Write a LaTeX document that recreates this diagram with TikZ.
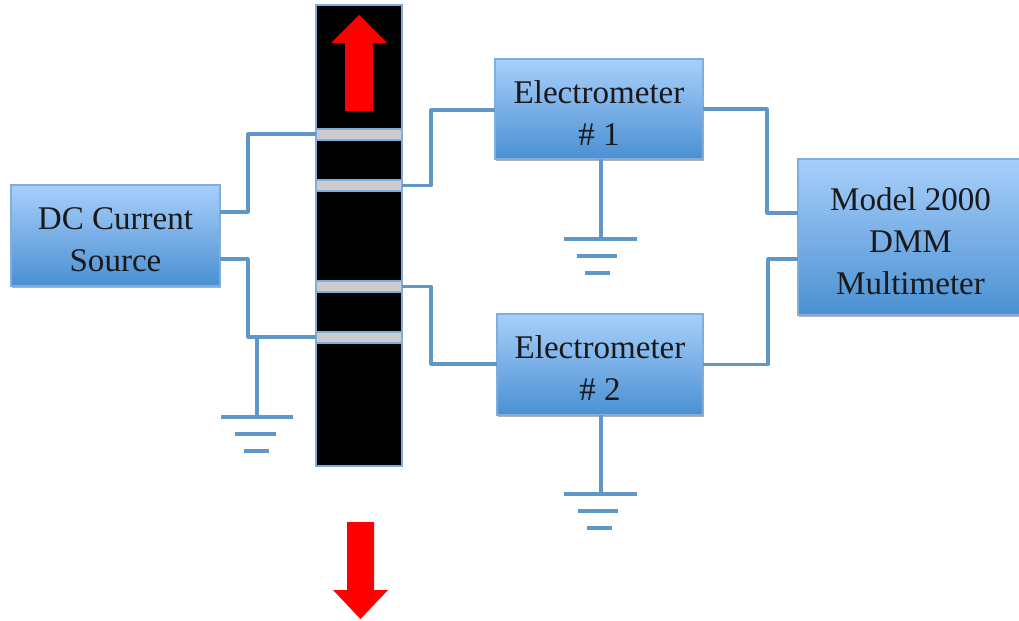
\documentclass[tikz,border=0pt]{standalone}
\usepackage{fontspec}
\setmainfont{Liberation Serif}
\usetikzlibrary{shadows,calc}
\definecolor{wire}{HTML}{6097C6}
\definecolor{boxedge}{HTML}{7FADDC}
\definecolor{boxtop}{HTML}{A8CFFB}
\definecolor{boxbot}{HTML}{4A90D2}
\newcommand{\lowered}{\rule{0pt}{23pt}}
\tikzset{
  x=0.75pt,y=-0.75pt,
  conn/.style={draw=wire,line width=2.3pt,line join=round},
  gbar/.style={draw=wire,line width=2.6pt},
  instr/.style={rectangle,draw=boxedge,line width=0.8pt,top color=boxtop,bottom color=boxbot,
    drop shadow={shadow xshift=1pt,shadow yshift=-1.5pt,opacity=.3,fill=black},
    inner sep=0pt,outer sep=0pt,align=center,font=\fontsize{24.8}{31.5}\selectfont,text=black!90},
  sample/.style={rectangle,draw=boxedge,line width=1.2pt,fill=black,inner sep=0pt,outer sep=0pt,
    minimum width=86*0.75pt,minimum height=461*0.75pt},
  contact/.style={rectangle,draw=boxedge,line width=1.2pt,fill=black!20,inner sep=0pt,outer sep=0pt,
    minimum width=86*0.75pt,minimum height=11*0.75pt},
  redarrow/.style={fill=red,draw=none},
}
\begin{document}
\begin{tikzpicture}
\useasboundingbox (0,0) rectangle (1019,620);

\coordinate (dcTop) at (220,212);
\coordinate (dcBot) at (220,259);
\coordinate (j1) at (248,134);
\coordinate (j2) at (248,337);
\coordinate (j3) at (431,110);
\coordinate (j4) at (431,364);
\coordinate (j5) at (767,213);
\coordinate (j6) at (768,259);
\coordinate (tap) at (257,337);
\coordinate (g1a) at (221,417); \coordinate (g1b) at (293,417);
\coordinate (g1c) at (235,434); \coordinate (g1d) at (276,434);
\coordinate (g1e) at (244,451); \coordinate (g1f) at (269,451);
\coordinate (g2t) at (601,239);
\coordinate (g2a) at (564,239); \coordinate (g2b) at (637,239);
\coordinate (g2c) at (577,256); \coordinate (g2d) at (617,256);
\coordinate (g2e) at (585,273); \coordinate (g2f) at (610,273);
\coordinate (g3t) at (601,494);
\coordinate (g3a) at (564,494); \coordinate (g3b) at (637,494);
\coordinate (g3c) at (578,511); \coordinate (g3d) at (618,511);
\coordinate (g3e) at (587,528); \coordinate (g3f) at (612,528);

\node[sample] (bar) at (359,235.5) {};
\node[contact] (c1) at (359,134.5) {};
\node[contact] (c2) at (359,185.5) {};
\node[contact] (c3) at (359,286.5) {};
\node[contact] (c4) at (359,337.5) {};

\node[instr,minimum width=209*0.75pt,minimum height=101*0.75pt] (dc) at (115.5,235.5) {\lowered DC Current\\Source};
\node[instr,minimum width=208*0.75pt,minimum height=100*0.75pt] (em1) at (599,109) {\lowered Electrometer\\\# 1};
\node[instr,minimum width=206*0.75pt,minimum height=101*0.75pt] (em2) at (600,364.5) {\lowered Electrometer\\\# 2};
\node[instr,minimum width=225*0.75pt,minimum height=156*0.75pt] (dmm) at (910.5,237) {\lowered Model 2000\\DMM\\Multimeter};

\draw[conn] (dcTop) -| (j1) -- (j1 -| c1.west);
\draw[conn] (dcBot) -| (j2) -- (j2 -| c4.west);
\draw[conn] (tap) -- (tap |- g1a);
\draw[conn] (c2.east) -| (j3) -- (j3 -| em1.west);
\draw[conn] (c3.east) -| (j4) -- (j4 -| em2.west);
\draw[conn] (em1.east) -| (j5) -- (j5 -| dmm.west);
\draw[conn] (em2.east) -| (j6) -- (j6 -| dmm.west);
\draw[conn] (em1.south -| g2t) -- (g2t);
\draw[conn] (em2.south -| g3t) -- (g3t);

\draw[gbar] (g1a) -- (g1b); \draw[gbar] (g1c) -- (g1d); \draw[gbar] (g1e) -- (g1f);
\draw[gbar] (g2a) -- (g2b); \draw[gbar] (g2c) -- (g2d); \draw[gbar] (g2e) -- (g2f);
\draw[gbar] (g3a) -- (g3b); \draw[gbar] (g3c) -- (g3d); \draw[gbar] (g3e) -- (g3f);

\fill[redarrow] (359,15) -- (387,43) -- (373,43) -- (373,111) -- (345,111) -- (345,43) -- (331,43) -- cycle;
\fill[redarrow] (347,522) -- (374,522) -- (374,590) -- (388,590) -- (360.5,619) -- (333,590) -- (347,590) -- cycle;
\end{tikzpicture}
\end{document}
